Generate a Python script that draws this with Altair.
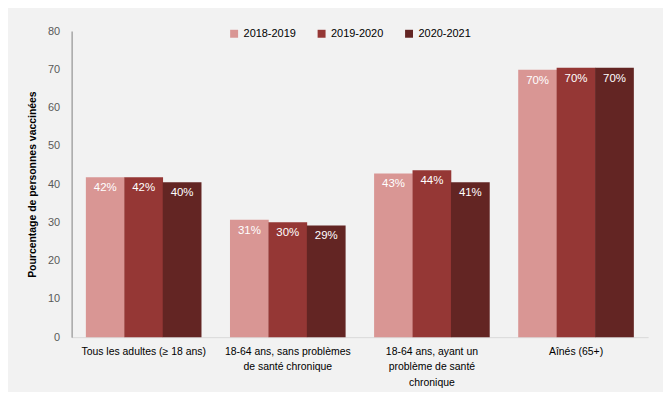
import altair as alt
import pandas as pd

categories = [
    "Tous les adultes (≥ 18 ans)",
    "18-64 ans, sans problèmes|de santé chronique",
    "18-64 ans, ayant un|problème de santé|chronique",
    "Aînés (65+)",
]
seasons = ["2018-2019", "2019-2020", "2020-2021"]
values = {
    "2018-2019": [41.8, 30.7, 42.8, 69.9],
    "2019-2020": [41.8, 30.0, 43.6, 70.4],
    "2020-2021": [40.5, 29.2, 40.5, 70.4],
}
labels = {
    "2018-2019": ["42%", "31%", "43%", "70%"],
    "2019-2020": ["42%", "30%", "44%", "70%"],
    "2020-2021": ["40%", "29%", "41%", "70%"],
}
colors = ["#d99694", "#953735", "#632523"]

rows = []
for s in seasons:
    for i, c in enumerate(categories):
        rows.append({"cat": c, "season": s, "value": values[s][i], "label": labels[s][i]})
df = pd.DataFrame(rows)

FONT = "Liberation Sans, sans-serif"

x = alt.X("cat:N", sort=categories, title=None,
          scale=alt.Scale(paddingInner=0.2, paddingOuter=0.1),
          axis=alt.Axis(labelExpr="split(datum.label, '|')", labelAngle=0,
                        labelFontSize=10.5, labelColor="#000000", labelFont=FONT,
                        ticks=False, domainColor="#d9d9d9", labelPadding=9,
                        labelLineHeight=16, labelLimit=200))
xo = alt.XOffset("season:N", sort=seasons, scale=alt.Scale(paddingInner=0, paddingOuter=0))
y = alt.Y("value:Q", title="Pourcentage de personnes vaccinées",
          scale=alt.Scale(domain=[0, 80]),
          axis=alt.Axis(values=list(range(0, 81, 10)), grid=False, ticks=False,
                        domainColor="#7f7f7f", labelColor="#595959", labelFontSize=11,
                        labelFont=FONT, labelPadding=12,
                        titleFontSize=10.5, titleFont="Liberation Sans", titleFontWeight="bold",
                        titleColor="#000000", titlePadding=10))

bars = alt.Chart(df).mark_bar(size=39).encode(
    x=x, xOffset=xo, y=y,
    color=alt.Color("season:N", sort=seasons, scale=alt.Scale(domain=seasons, range=colors),
                    legend=alt.Legend(title=None, orient="none", direction="horizontal",
                                      legendX=158, legendY=-3, symbolType="square",
                                      symbolSize=64, labelFontSize=11, labelFont=FONT,
                                      labelColor="#000000", columnPadding=20,
                                      symbolStrokeWidth=0)),
)
text = alt.Chart(df).mark_text(color="white", fontSize=11.5, font=FONT, baseline="top", dy=5).encode(
    x=x, xOffset=xo, y=y, text="label:N",
)

chart = (bars + text).properties(
    width=580, height=308, background="#f2f2f2",
    autosize=alt.AutoSizeParams(type="none"),
    padding={"left": 64, "top": 22, "right": 15, "bottom": 54},
).configure_view(stroke=None)

chart.save("out.html", embed_options={"renderer": "svg", "actions": False})
